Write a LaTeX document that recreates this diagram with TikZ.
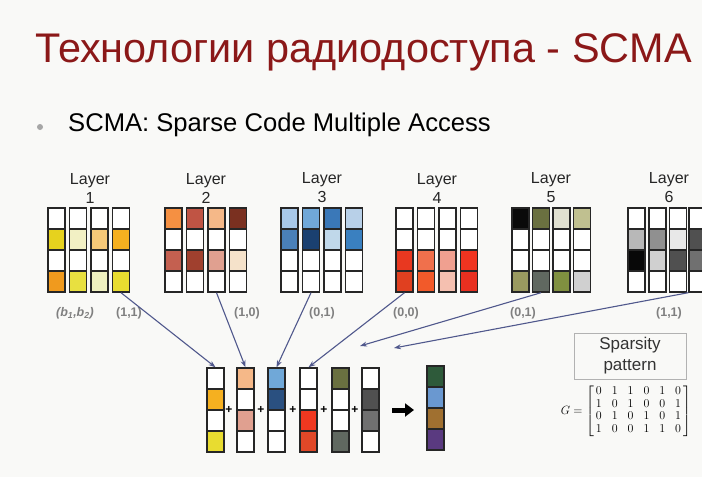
\documentclass[tikz,border=0pt]{standalone}
\usepackage{amsmath}
\usepackage{fontspec}
\setmainfont{Liberation Sans}
\usetikzlibrary{arrows.meta}

\definecolor{titlered}{RGB}{139,24,24}
\definecolor{linkblue}{RGB}{80,88,140}
\definecolor{tupgrey}{RGB}{128,128,128}
\definecolor{slidebg}{RGB}{249,249,247}

% one codeword column: name, left edge, top edge, four cell colours (HTML)
\newcommand{\codecol}[4]{%
  \foreach \cellc [count=\cellr] in {#4} {%
    \edef\setfill{\noexpand\definecolor{cellfill}{HTML}{\cellc}}\setfill
    \node [cell,fill=cellfill] (#1r\cellr) at (#2+8.5,#3+21*\cellr-10.5) {};
  }}

\begin{document}
\begin{tikzpicture}
[x=1pt,y=-1pt,
 cell/.style={draw=black!85,line width=1.4pt,minimum width=17pt,minimum height=21pt,inner sep=0pt},
 lay/.style={align=center,font=\fontsize{16}{19}\selectfont,text=black!85},
 tup/.style={font=\fontsize{12.5}{14}\selectfont\bfseries,text=tupgrey},
 link/.style={-{Stealth[length=7pt,width=5pt]},line width=1.1pt,linkblue},
 plus/.style={font=\fontsize{12}{12}\selectfont\bfseries,inner sep=0pt}]
\useasboundingbox [fill=slidebg] (0,0) rectangle (702,477);

% title
\node [anchor=base west,text=titlered,font=\fontsize{41.4}{46}\selectfont,inner sep=0pt] (title) at (35,62) {Технологии радиодоступа - SCMA};
\node [circle,fill=gray!70,inner sep=0pt,minimum size=6pt] (dot) at (40,127) {};
\node [anchor=base west,font=\fontsize{25.6}{28}\selectfont,inner sep=0pt] (sub) at (68,131) {SCMA: Sparse Code Multiple Access};

% layer headings
\node [lay] (lay1) at (90,188) {Layer\\1};
\node [lay] (lay2) at (206,188) {Layer\\2};
\node [lay] (lay3) at (322,188) {Layer\\3};
\node [lay] (lay4) at (437,188) {Layer\\4};
\node [lay] (lay5) at (551,188) {Layer\\5};
\node [lay] (lay6) at (669,188) {Layer\\6};

% layer 1
\codecol{L1c1}{48}{208}{FFFFFF,E6D21E,FFFFFF,F09A1E}
\codecol{L1c2}{69.5}{208}{FFFFFF,F2F0C4,FFFFFF,E8E040}
\codecol{L1c3}{91}{208}{FFFFFF,F5C878,FFFFFF,EEF0C0}
\codecol{L1c4}{112.5}{208}{FFFFFF,F5B020,FFFFFF,E8DC30}
% layer 2
\codecol{L2c1}{165}{208}{F59042,FFFFFF,C46050,FFFFFF}
\codecol{L2c2}{186.5}{208}{C05444,FFFFFF,A0402E,FFFFFF}
\codecol{L2c3}{208}{208}{F5B888,FFFFFF,E0A090,FFFFFF}
\codecol{L2c4}{229.5}{208}{7A3020,FFFFFF,F5E2CA,FFFFFF}
% layer 3
\codecol{L3c1}{281}{208}{A8C8E8,4A80B8,FFFFFF,FFFFFF}
\codecol{L3c2}{302.5}{208}{70A8D8,1A4070,FFFFFF,FFFFFF}
\codecol{L3c3}{324}{208}{3A78B8,C0D8EA,FFFFFF,FFFFFF}
\codecol{L3c4}{345.5}{208}{B8D0E8,3A80C0,FFFFFF,FFFFFF}
% layer 4
\codecol{L4c1}{396}{208}{FFFFFF,FFFFFF,E83820,E04020}
\codecol{L4c2}{417.5}{208}{FFFFFF,FFFFFF,F0704C,F25A2A}
\codecol{L4c3}{439}{208}{FFFFFF,FFFFFF,F0A090,F5C0B0}
\codecol{L4c4}{460.5}{208}{FFFFFF,FFFFFF,F03420,E83020}
% layer 5
\codecol{L5c1}{512}{208}{0A0A0A,FFFFFF,FFFFFF,9A9A60}
\codecol{L5c2}{532.5}{208}{6A7040,FFFFFF,FFFFFF,606860}
\codecol{L5c3}{553}{208}{E0E0D0,FFFFFF,FFFFFF,809040}
\codecol{L5c4}{573.5}{208}{C0C090,FFFFFF,FFFFFF,D0D0D0}
% layer 6
\codecol{L6c1}{628}{208}{FFFFFF,B8B8B8,080808,FFFFFF}
\codecol{L6c2}{649}{208}{FFFFFF,909090,D0D0D0,FFFFFF}
\codecol{L6c3}{669.5}{208}{FFFFFF,E8E8E8,505050,FFFFFF}
\codecol{L6c4}{689}{208}{FFFFFF,505050,707070,FFFFFF}

% bit pairs
\node [tup] (t0) at (75,313) {\textit{(b\textsubscript{1},b\textsubscript{2})}};
\node [tup] (t1) at (129,313) {(1,1)};
\node [tup] (t2) at (247,313) {(1,0)};
\node [tup] (t3) at (322,313) {(0,1)};
\node [tup] (t4) at (406,313) {(0,0)};
\node [tup] (t5) at (523,313) {(0,1)};
\node [tup] (t6) at (669,313) {(1,1)};

% superposition
\codecol{S1}{207}{368}{FFFFFF,F5B020,FFFFFF,E8DC30}
\codecol{S2}{237}{368}{F5B888,FFFFFF,E0A090,FFFFFF}
\codecol{S3}{268}{368}{70A8D8,2A5080,FFFFFF,FFFFFF}
\codecol{S4}{300}{368}{FFFFFF,FFFFFF,F03820,E04828}
\codecol{S5}{332}{368}{6A7040,FFFFFF,FFFFFF,606860}
\codecol{S6}{362}{368}{FFFFFF,505050,707070,FFFFFF}
\foreach \x [count=\i] in {229,261,293,324,355}
  \node [plus] (plus\i) at (\x,410) {+};

\codecol{R}{427}{366}{2E5A3A,6A98D0,A07030,5A3A80}
\coordinate (sumL) at (392,410);
\coordinate (sumR) at (414,410);
\draw [-{Triangle[length=9pt,width=13pt]},line width=5pt] (sumL) -- (sumR);

% links
\coordinate (tip5) at (360,346);
\coordinate (tip6) at (394,348);
\draw [link] (L1c4r4.south) -- (S1r1.north);
\draw [link] (L2c3r4.south) -- (S2r1.north);
\draw [link] (L3c2r4.south) -- (S3r1.north);
\draw [link] (L4c1r4.south) -- (S4r1.north);
\draw [link] (L5c2r4.south) -- (tip5);
\draw [link] (L6c4r4.south west) -- (tip6);

% sparsity pattern
\node [draw=black!30,line width=0.8pt,minimum width=112pt,minimum height=46pt,align=center,font=\fontsize{17}{21}\selectfont,text=black!80] (sparse) at (630,356) {Sparsity\\pattern};
\node [font=\fontsize{11.5}{12.4}\selectfont] (gmat) at (626,411) {$G=\setlength{\arraycolsep}{5pt}\left[\,\begin{matrix}0&1&1&0&1&0\\1&0&1&0&0&1\\0&1&0&1&0&1\\1&0&0&1&1&0\end{matrix}\,\right]$};
\end{tikzpicture}
\end{document}
